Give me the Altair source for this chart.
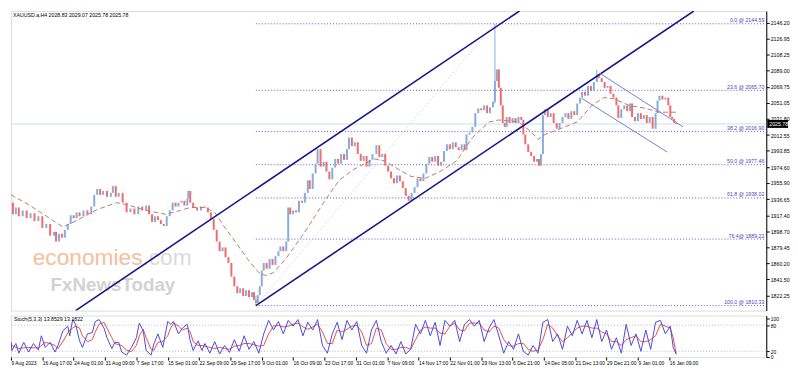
import altair as alt
import pandas as pd

# ---------------- data ----------------
header = "XAUUSD.a,H4  2028.83 2029.07 2025.78 2025.78"
stoch_title = "Stoch(5,3,3) 13.8529 13.1822"
last_price = 2025.78

# H4 bar index and close
bar_idx = [0, 2, 5, 8, 12, 16, 20, 24, 28, 32, 36, 40, 44, 46, 49, 52, 55, 58, 61, 64, 67, 70, 74, 78, 82, 85, 88, 91, 94, 98,
           102, 104, 107, 110, 114, 118, 122, 126, 130, 134, 138, 141, 144, 147, 150, 153, 156, 159, 162, 165, 168, 171, 174,
           177, 180, 181, 183, 186, 190, 194, 198, 201, 204, 207, 210, 213, 216, 219, 222, 225, 228, 231, 234, 237, 240, 243,
           246, 248, 250, 252, 254, 256, 258, 261, 264, 267, 270, 273, 275, 278, 281, 283, 285, 288, 291, 294, 297, 300, 303,
           305, 308, 311, 313, 316, 319, 322, 325, 328, 331, 334, 337, 340, 343, 345, 348, 351, 354, 357, 360, 363, 366, 369,
           373, 376, 379, 382, 385, 388, 391, 394, 397, 400, 403, 406, 409, 412, 415, 418, 421, 424, 427, 430, 433, 436, 439,
           442, 445, 448, 451, 454, 457, 460, 463, 465, 468, 471, 474, 477, 480, 483, 486, 489, 492, 494, 496, 498, 500, 502,
           504, 506, 509, 512, 515, 518, 521, 523, 525, 528, 531, 534, 537, 539, 541, 543, 545, 548, 551, 554, 557, 560, 563,
           566, 569, 572, 575, 578, 581, 583, 586, 589, 592, 595, 598, 600, 603, 606, 609, 612, 615, 618, 620, 623, 626, 629,
           632, 634, 637, 640, 643, 646, 649, 652, 655, 658, 660, 662, 665, 668, 671, 673, 675, 677, 679]
close = [1932.4, 1918.6, 1926.7, 1916.3, 1923.2, 1914.0, 1919.8, 1910.5, 1916.3, 1902.5, 1907.1, 1893.2, 1897.9, 1886.3,
         1895.5, 1890.9, 1900.2, 1907.1, 1917.5, 1914.0, 1920.9, 1916.3, 1923.2, 1918.6, 1927.8, 1941.7, 1948.6, 1941.7,
         1946.3, 1939.4, 1944.0, 1952.0, 1939.4, 1944.0, 1932.4, 1920.9, 1925.5, 1918.6, 1927.8, 1923.2, 1929.0, 1918.6,
         1909.4, 1916.3, 1911.7, 1907.1, 1904.8, 1916.3, 1923.2, 1932.4, 1927.8, 1932.4, 1934.7, 1929.0, 1937.1, 1946.3,
         1932.4, 1926.7, 1923.2, 1927.8, 1926.7, 1920.9, 1912.8, 1900.2, 1886.3, 1874.8, 1879.4, 1867.8, 1860.9, 1844.8,
         1833.2, 1825.1, 1830.9, 1821.7, 1828.6, 1820.5, 1826.3, 1817.1, 1813.6, 1822.8, 1833.2, 1851.7, 1860.9, 1854.0,
         1865.5, 1858.6, 1869.0, 1874.8, 1880.5, 1874.8, 1886.3, 1926.7, 1918.6, 1923.2, 1920.9, 1934.7, 1932.4, 1944.0,
         1958.9, 1948.6, 1967.0, 1978.6, 1995.9, 1975.1, 1980.9, 1969.3, 1960.1, 1974.0, 1984.3, 1978.6, 1990.1, 1983.2,
         1995.9, 2009.7, 1999.4, 2004.0, 1990.1, 1982.0, 1987.8, 1975.1, 1983.2, 1990.1, 2000.5, 1986.6, 1990.1, 1976.3,
         1969.3, 1961.3, 1955.5, 1964.7, 1957.8, 1949.7, 1940.5, 1934.7, 1944.0, 1950.9, 1961.3, 1957.8, 1967.0, 1978.6,
         1986.6, 1980.9, 1987.8, 1976.3, 1980.9, 1993.6, 2001.6, 1995.9, 2004.0, 1998.2, 1994.7, 2001.6, 1994.7, 2013.2,
         2015.5, 2022.3, 2038.6, 2044.3, 2042.0, 2047.8, 2038.6, 2045.5, 2052.4, 2076.6, 2090.5, 2068.6, 2047.8, 2027.0,
         2022.3, 2034.0, 2027.0, 2032.8, 2027.0, 2034.0, 2030.5, 2013.2, 2001.6, 1992.4, 1987.8, 1980.9, 1984.3, 1976.3,
         1990.1, 2036.3, 2043.2, 2034.0, 2038.6, 2027.0, 2020.1, 2027.0, 2034.0, 2038.6, 2031.7, 2040.9, 2036.3, 2050.1,
         2057.0, 2063.9, 2059.3, 2070.9, 2065.1, 2075.5, 2084.7, 2080.1, 2075.5, 2068.6, 2070.9, 2061.6, 2057.0, 2047.8,
         2032.8, 2043.2, 2047.8, 2040.9, 2050.1, 2034.0, 2029.3, 2038.6, 2031.7, 2036.3, 2027.0, 2034.0, 2020.1, 2038.6,
         2053.6, 2059.3, 2054.7, 2057.0, 2047.8, 2034.0, 2031.7, 2027.0, 2025.78]

wick_bar = [250, 494, 598]
wick_low = [1810.33, 2050.0, 2078.0]
wick_high = [1822.0, 2144.59, 2090.0]

ma_bar = [0, 18, 38, 53, 68, 88, 108, 118, 138, 158, 173, 183, 198, 208, 218, 231, 243, 253, 260, 268, 281, 298, 311,
          321, 335, 348, 355, 371, 381, 391, 408, 423, 438, 455, 471, 488, 498, 518, 531, 538, 545, 558, 578, 593, 605,
          615, 631, 648, 661, 679]
ma_val = [1941.7, 1930.1, 1915.1, 1903.6, 1911.7, 1924.3, 1932.4, 1930.1, 1923.2, 1918.6, 1923.2, 1926.7, 1926.7, 1920.9,
          1903.6, 1882.8, 1863.2, 1849.4, 1845.9, 1849.4, 1866.7, 1894.3, 1917.5, 1935.9, 1958.9, 1970.5, 1975.1, 1984.3,
          1982.0, 1975.1, 1963.6, 1961.3, 1969.3, 1982.0, 2009.7, 2028.2, 2030.5, 2028.2, 2016.6, 2007.4, 2013.2, 2018.9,
          2028.2, 2047.8, 2057.0, 2055.9, 2047.8, 2044.3, 2039.7, 2039.7]

fib_level = [2144.59, 2065.70, 2016.90, 1977.46, 1938.02, 1889.22, 1810.33]
fib_text = ["0.0 @ 2144.59", "23.6 @ 2065.70", "38.2 @ 2016.90", "50.0 @ 1977.46",
            "61.8 @ 1938.02", "76.4@ 1889.22", "100.0 @ 1810.33"]
fib_from_bar = 250
fib_to_bar = 771

# trend lines: (bar1, price1) -> (bar2, price2)
big_chan_b1 = [66, 250]
big_chan_p1 = [1804.4, 1810.33]
big_chan_b2 = [519, 697]
big_chan_p2 = [2159.7, 2159.7]

small_chan_b1 = [601, 583]
small_chan_p1 = [2085.9, 2055.9]
small_chan_b2 = [686, 670]
small_chan_p2 = [2022.4, 1992.4]

fib_anchor_b = [250, 494]
fib_anchor_p = [1810.33, 2144.59]

price_ticks = [1803.55, 1822.25, 1841.50, 1860.20, 1879.45, 1898.70, 1917.40, 1936.65, 1955.90, 1974.60,
               1993.85, 2012.55, 2031.80, 2051.05, 2069.75, 2089.00, 2108.25, 2126.95, 2146.20]

time_tick_bars = [0, 32, 64, 96, 128, 160, 192, 224, 256, 288, 320, 352, 384, 416, 448, 480, 512, 544, 576, 608, 640, 672]
time_labels = ["9 Aug 2023", "16 Aug 17:00", "24 Aug 01:00", "31 Aug 09:00", "7 Sep 17:00", "15 Sep 01:00",
               "22 Sep 09:00", "29 Sep 17:00", "9 Oct 01:00", "16 Oct 09:00", "23 Oct 17:00", "31 Oct 01:00",
               "7 Nov 09:00", "14 Nov 17:00", "22 Nov 01:00", "29 Nov 13:00", "6 Dec 21:00", "14 Dec 05:00",
               "21 Dec 13:00", "29 Dec 21:00", "9 Jan 01:00", "16 Jan 09:00"]

stoch_bar = [0, 1, 5, 8, 13, 18, 23, 28, 31, 35, 40, 45, 48, 53, 58, 60, 63, 66, 70, 73, 78, 83, 86, 90, 95, 98, 103,
             106, 110, 113, 118, 123, 128, 131, 135, 138, 143, 146, 150, 155, 160, 163, 166, 171, 175, 180, 183, 186,
             191, 195, 198,
             203, 208, 213, 218, 223, 228, 233, 238, 243, 248, 253, 258, 263, 268, 273, 278, 283, 288, 293, 298, 303,
             308, 313, 318, 323, 328, 333, 338, 343, 348, 353, 358, 363, 368, 373, 378, 383, 388, 393, 398, 403, 408,
             413, 418, 423, 428, 433, 438, 443, 448, 453, 458, 463, 468, 473, 478, 483, 488, 493, 498, 503, 508, 513,
             518, 523, 528, 533, 538, 543, 548, 553, 558, 563, 568, 573, 578, 583, 588, 593, 598, 603, 608, 613, 618,
             623, 628, 633, 638, 643, 648, 653, 658, 663, 668, 673, 676, 679]
stoch_k = [40.5, 21.8, 37.8, 15.6, 40.5, 18.2, 37.8, 22.7, 55.6, 28.9, 40.5, 18.2, 33.3, 67.1, 77.8, 55.6, 92.9, 82.2,
           44.0, 28.9, 60.0, 62.7, 88.5, 92.9, 73.3, 51.1, 26.2, 40.5, 40.5, 18.2, 11.1, 28.9, 51.1, 84.9, 67.1, 21.8,
           11.1, 37.8, 60.0, 28.9, 88.5, 82.2, 88.5, 60.0, 73.3, 82.2, 44.0, 21.8, 44.0, 21.8, 37.8,
           15.6, 42.2, 13.8, 33.3, 17.3, 46.7, 20.0, 55.6, 24.4, 42.2,
           15.6, 60.0, 91.1, 68.9, 88.5, 60.0, 91.1, 77.8, 92.9, 55.6,
           86.7, 68.9, 92.9, 33.3, 15.6, 60.0, 86.7, 46.7, 91.1, 68.9,
           88.5, 33.3, 15.6, 68.9, 91.1, 42.2, 15.6, 33.3, 13.8, 42.2,
           13.8, 24.4, 82.2, 60.0, 91.1, 55.6, 86.7, 33.3, 91.1, 77.8,
           91.1, 42.2, 82.2, 92.9, 77.8, 91.1, 42.2, 73.3, 92.9, 55.6,
           15.6, 42.2, 24.4, 60.0, 20.0, 11.1, 33.3, 15.6, 86.7, 92.9,
           42.2, 60.0, 24.4, 77.8, 55.6, 91.1, 60.0, 91.1, 51.1, 92.9,
           42.2, 68.9, 24.4, 51.1, 15.6, 82.2, 33.3, 60.0, 20.0, 68.9,
           24.4, 86.7, 91.1, 60.0, 77.8, 28.9, 13.85]
stoch_d = [42.2, 33.3, 28.9, 26.2, 28.0, 28.9, 28.0, 28.0, 33.3, 40.5, 37.8, 33.3, 26.2, 42.2, 61.8, 68.9, 73.3, 77.8,
           73.3, 55.6, 42.2, 46.7, 64.5, 82.2, 86.7, 73.3, 51.1, 37.8, 35.1, 33.3, 22.7, 19.1, 33.3, 55.6, 70.7, 51.1,
           24.4, 22.7, 40.5, 42.2, 55.6, 73.3, 84.9, 77.8, 68.9, 73.3, 64.5, 42.2, 33.3, 33.3, 31.6,
           28.9, 26.2, 28.9, 26.2, 24.4, 31.6, 33.3, 37.8, 37.8, 35.1,
           31.6, 33.3, 60.0, 77.8, 79.6, 76.0, 77.8, 82.2, 84.9, 76.0,
           70.7, 76.0, 82.2, 64.5, 37.8, 37.8, 68.9, 64.5, 70.7, 77.8,
           79.6, 64.5, 33.3, 37.8, 73.3, 68.9, 37.8, 24.4, 24.4, 28.9,
           28.9, 24.4, 46.7, 68.9, 76.0, 73.3, 73.3, 61.8, 60.0, 77.8,
           84.9, 68.9, 67.1, 84.9, 84.9, 84.9, 68.9, 64.5, 77.8, 73.3,
           46.7, 33.3, 31.6, 37.8, 37.8, 24.4, 20.0, 22.7, 46.7, 82.2,
           73.3, 55.6, 42.2, 51.1, 61.8, 73.3, 77.8, 77.8, 73.3, 73.3,
           64.5, 60.0, 42.2, 42.2, 33.3, 46.7, 51.1, 55.6, 42.2, 42.2,
           46.7, 55.6, 82.2, 77.8, 73.3, 51.1, 13.18]
stoch_levels = [20, 80]
stoch_tick_vals = [7.6, 20, 80, 96]
stoch_tick_text = ["0", "20", "80", "100"]

# ---------------- styling ----------------
W, HM, HS = 764, 303, 42
FONT = "Liberation Sans"
UP, DOWN = "#86acdc", "#f36a6a"

x_scale = alt.Scale(domain=[0, 771], nice=False, zero=False)
y_scale = alt.Scale(domain=[1804.4, 2159.7], nice=False, zero=False)
s_scale = alt.Scale(domain=[6.67, 102.2], nice=False, zero=False)

y_axis = alt.Axis(orient="right", values=price_ticks, format=".2f", title=None, grid=False,
                  labelFontSize=5.3, labelColor="#000", tickSize=3, tickColor="#000",
                  domainColor="#000", labelPadding=1, labelFont=FONT, labelOverlap=False)


def X(f):
    return alt.X(f, type="quantitative", scale=x_scale, axis=None)


def Y(f):
    return alt.Y(f, type="quantitative", scale=y_scale, axis=y_axis)


# ---------------- main panel ----------------
opens = [close[0]] + close[:-1]
candles = pd.DataFrame({"bar": bar_idx, "open": opens, "close": close})
candles["dir"] = ["up" if c >= o else "down" for o, c in zip(opens, close)]
color_enc = alt.Color("dir:N", scale=alt.Scale(domain=["up", "down"], range=[UP, DOWN]), legend=None)

price_line = alt.Chart(pd.DataFrame({"p": [last_price]})).mark_rule(color="#c6e2ef", strokeWidth=1).encode(y=Y("p"))

fib_df = pd.DataFrame({"lvl": fib_level, "txt": fib_text, "b0": fib_from_bar, "b1": fib_to_bar})
fib_rules = alt.Chart(fib_df).mark_rule(color="#5a5ad0", strokeDash=[1, 2], strokeWidth=1).encode(
    x=X("b0"), x2="b1", y=Y("lvl"))
fib_labels = alt.Chart(fib_df).mark_text(align="right", baseline="bottom", dy=-0.5, fontSize=5.3,
                                         color="#4a4ab8", font=FONT).encode(
    x=alt.value(W - 2), y=Y("lvl"), text="txt")

anchor = alt.Chart(pd.DataFrame({"b": [fib_anchor_b[0]], "p": [fib_anchor_p[0]],
                                 "b2": [fib_anchor_b[1]], "p2": [fib_anchor_p[1]]})).mark_rule(
    color="#dcdcdc", strokeDash=[2, 2], strokeWidth=1).encode(x=X("b"), y=Y("p"), x2="b2", y2="p2")

wicks = alt.Chart(pd.DataFrame({"bar": wick_bar, "lo": wick_low, "hi": wick_high})).mark_rule(
    color=UP, strokeWidth=1).encode(x=X("bar"), y=Y("lo"), y2="hi")

candle_marks = alt.Chart(candles).mark_rule(strokeWidth=2).encode(
    x=X("bar"), y=Y("open"), y2="close", color=color_enc)

ma = alt.Chart(pd.DataFrame({"bar": ma_bar, "v": ma_val})).mark_line(
    color="#b97b72", strokeDash=[5, 3], strokeWidth=1).encode(x=X("bar"), y=Y("v"))

big = alt.Chart(pd.DataFrame({"b": big_chan_b1, "p": big_chan_p1, "b2": big_chan_b2, "p2": big_chan_p2})).mark_rule(
    color="#15158c", strokeWidth=1.6, clip=True).encode(x=X("b"), y=Y("p"), x2="b2", y2="p2")

small = alt.Chart(pd.DataFrame({"b": small_chan_b1, "p": small_chan_p1, "b2": small_chan_b2,
                                "p2": small_chan_p2})).mark_rule(
    color="#7c7cc6", strokeWidth=1).encode(x=X("b"), y=Y("p"), x2="b2", y2="p2")

price_box = alt.Chart(pd.DataFrame({"p": [last_price]})).mark_rect(color="#000", height=8).encode(
    x=alt.value(W + 1), x2=alt.value(W + 22), y=Y("p"))
price_txt = alt.Chart(pd.DataFrame({"p": [last_price], "t": ["2025.78"]})).mark_text(
    color="#fff", fontSize=5.3, align="left", font=FONT).encode(x=alt.value(W + 3), y=Y("p"), text="t")

head = alt.Chart(pd.DataFrame({"t": [header]})).mark_text(
    align="left", baseline="top", fontSize=5.3, font=FONT, color="#000").encode(
    x=alt.value(2), y=alt.value(2), text="t")

wm1 = alt.Chart(pd.DataFrame({"t": ["economies"]})).mark_text(
    align="left", baseline="alphabetic", fontSize=23, font=FONT, color="#f6b48c", opacity=0.85).encode(
    x=alt.value(22), y=alt.value(257), text="t")
wm2 = alt.Chart(pd.DataFrame({"t": [".com"]})).mark_text(
    align="left", baseline="alphabetic", fontSize=23, font=FONT, color="#dadada").encode(
    x=alt.value(133), y=alt.value(257), text="t")
wm3 = alt.Chart(pd.DataFrame({"t": ["FxNewsToday"]})).mark_text(
    align="left", baseline="alphabetic", fontSize=19, font=FONT, color="#d2d2d2", fontWeight="bold").encode(
    x=alt.value(40), y=alt.value(283), text="t")

main = alt.layer(price_line, fib_rules, anchor, wm1, wm2, wm3, candle_marks, wicks, ma, big, small,
                 fib_labels, head, price_box, price_txt).properties(width=W, height=HM)

# ---------------- stochastic panel ----------------
sdf = pd.DataFrame({"bar": stoch_bar, "k": stoch_k, "d": stoch_d})
label_js = "[" + ",".join("'" + s + "'" for s in time_labels) + "]"
x_axis_s = alt.Axis(values=time_tick_bars, labelExpr=label_js + "[round(datum.value/32)]", title=None,
                    labelAlign="left", labelFontSize=5, labelFont=FONT, labelColor="#000", tickSize=3,
                    tickColor="#000", domain=False, grid=False, labelPadding=1, labelOverlap=False,
                    labelFlush=False)
s_label_js = "datum.value < 10 ? '0' : datum.value > 90 ? '100' : format(datum.value, 'd')"
s_axis = alt.Axis(orient="right", values=stoch_tick_vals, labelExpr=s_label_js, title=None, grid=False,
                  labelFontSize=5, labelFont=FONT, labelColor="#000", tickSize=3, tickColor="#000",
                  domainColor="#000", labelPadding=1, labelOverlap=False)

s_levels = alt.Chart(pd.DataFrame({"v": stoch_levels})).mark_rule(
    color="#b8b8b8", strokeDash=[1, 2]).encode(y=alt.Y("v:Q", scale=s_scale, axis=s_axis))
k_line = alt.Chart(sdf).mark_line(color="#4b4bd8", strokeWidth=1, clip=True).encode(
    x=alt.X("bar:Q", scale=x_scale, axis=x_axis_s), y=alt.Y("k:Q", scale=s_scale, axis=s_axis))
d_line = alt.Chart(sdf).mark_line(color="#ec4b4b", strokeWidth=1, clip=True).encode(
    x=alt.X("bar:Q", scale=x_scale, axis=x_axis_s), y=alt.Y("d:Q", scale=s_scale, axis=s_axis))
s_head = alt.Chart(pd.DataFrame({"t": [stoch_title]})).mark_text(
    align="left", baseline="top", fontSize=5.3, font=FONT, color="#000").encode(
    x=alt.value(3), y=alt.value(2), text="t")

stoch = alt.layer(s_levels, d_line, k_line, s_head).properties(width=W, height=HS)

chart = alt.vconcat(main, stoch, spacing=3).properties(padding=0).configure_view(
    stroke="#7d7d7d", strokeWidth=1).configure(background="#ffffff")

chart.save("out.html", embed_options={"renderer": "svg", "actions": False})
